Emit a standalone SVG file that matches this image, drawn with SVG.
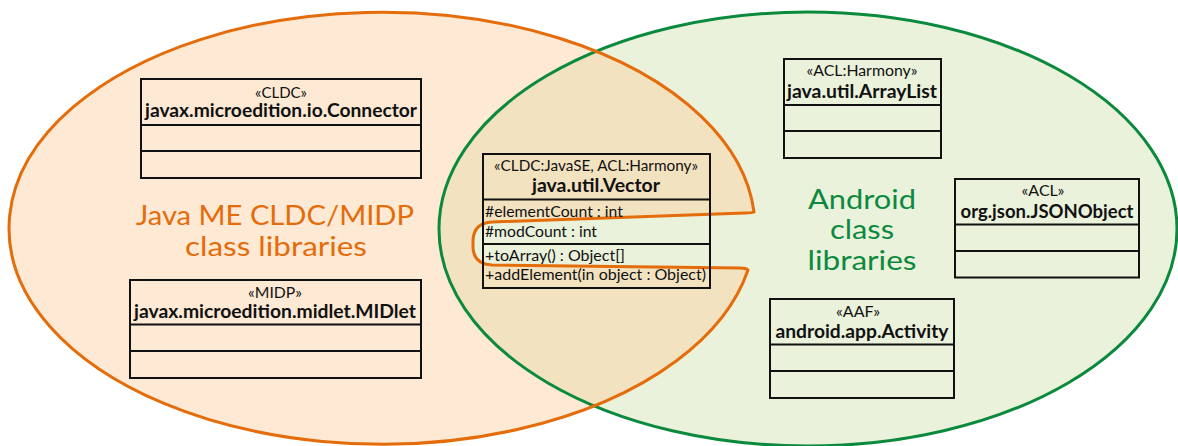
<svg xmlns="http://www.w3.org/2000/svg" width="1178" height="446" viewBox="0 0 1178 446">
<style>
.box{fill:none;stroke:#111;stroke-width:2}
.st{font-family:Lato,"Liberation Sans",sans-serif;font-size:16px;fill:#111;text-anchor:middle}
.nm{font-family:Lato,"Liberation Sans",sans-serif;font-size:18px;font-weight:bold;fill:#111;text-anchor:middle}
.at{font-family:Lato,"Liberation Sans",sans-serif;font-size:16px;fill:#111}
.big{font-family:Lato,"Liberation Sans",sans-serif;font-size:27px;text-anchor:middle}
</style>
<defs>
<path id="orangeShape" d="M 754 212 A 373 216 0 1 0 748 270 C 746 268 744 268 740 268 L 492 265 Q 474 264 473 248 L 473 240 Q 474 223 492 222 L 745 213 Q 752 213 754 212 Z"/>
<clipPath id="greenClip"><ellipse cx="808" cy="229" rx="369" ry="217"/></clipPath>
</defs>
<rect width="1178" height="446" fill="#ffffff"/>
<g id="sets">
<use href="#orangeShape" fill="#FDE9D4"/>
<ellipse cx="808" cy="229" rx="369" ry="217" fill="#EBF2DC"/>
<use href="#orangeShape" fill="#F3E2C0" clip-path="url(#greenClip)"/>
<ellipse cx="808" cy="229" rx="369" ry="217" fill="none" stroke="#0B8A3E" stroke-width="3"/>
<use href="#orangeShape" fill="none" stroke="#E46C0A" stroke-width="3"/>
<text class="big" x="275" y="225" fill="#E46C0A" textLength="278" lengthAdjust="spacingAndGlyphs">Java ME CLDC/MIDP</text>
<text class="big" x="276" y="256" fill="#E46C0A" textLength="182" lengthAdjust="spacingAndGlyphs">class libraries</text>
<text class="big" x="862" y="209" fill="#0B8A3E" textLength="108" lengthAdjust="spacingAndGlyphs">Android</text>
<text class="big" x="862" y="239" fill="#0B8A3E" textLength="64" lengthAdjust="spacingAndGlyphs">class</text>
<text class="big" x="862" y="270" fill="#0B8A3E" textLength="109" lengthAdjust="spacingAndGlyphs">libraries</text>
</g>
<g id="connector">
<rect class="box" x="141" y="79" width="280" height="99"/>
<line class="box" x1="141" y1="125" x2="421" y2="125"/>
<line class="box" x1="141" y1="151" x2="421" y2="151"/>
<text class="st" x="281" y="98" textLength="52" lengthAdjust="spacingAndGlyphs">«CLDC»</text>
<text class="nm" x="281" y="117" textLength="272" lengthAdjust="spacingAndGlyphs">javax.microedition.io.Connector</text>
</g>
<g id="midlet">
<rect class="box" x="130" y="280" width="291" height="98"/>
<line class="box" x1="130" y1="324.5" x2="421" y2="324.5"/>
<line class="box" x1="130" y1="351" x2="421" y2="351"/>
<text class="st" x="275" y="298" textLength="54" lengthAdjust="spacingAndGlyphs">«MIDP»</text>
<text class="nm" x="275" y="318" textLength="282" lengthAdjust="spacingAndGlyphs">javax.microedition.midlet.MIDlet</text>
</g>
<g id="vector">
<rect class="box" x="483" y="154" width="227" height="134"/>
<line class="box" x1="483" y1="199.5" x2="710" y2="199.5"/>
<line class="box" x1="483" y1="244" x2="710" y2="244"/>
<text class="st" x="596" y="171" textLength="204" lengthAdjust="spacingAndGlyphs">«CLDC:JavaSE, ACL:Harmony»</text>
<text class="nm" x="596" y="192" textLength="128" lengthAdjust="spacingAndGlyphs">java.util.Vector</text>
<text class="at" x="485" y="217" textLength="138" lengthAdjust="spacingAndGlyphs">#elementCount : int</text>
<text class="at" x="485" y="237" textLength="112" lengthAdjust="spacingAndGlyphs">#modCount : int</text>
<text class="at" x="485" y="261" textLength="140" lengthAdjust="spacingAndGlyphs">+toArray() : Object[]</text>
<text class="at" x="485" y="280" textLength="221" lengthAdjust="spacingAndGlyphs">+addElement(in object : Object)</text>
</g>
<g id="arraylist">
<rect class="box" x="784" y="59" width="157" height="99"/>
<line class="box" x1="784" y1="105" x2="941" y2="105"/>
<line class="box" x1="784" y1="131" x2="941" y2="131"/>
<text class="st" x="862" y="76" textLength="111" lengthAdjust="spacingAndGlyphs">«ACL:Harmony»</text>
<text class="nm" x="862" y="98" textLength="150" lengthAdjust="spacingAndGlyphs">java.util.ArrayList</text>
</g>
<g id="jsonobject">
<rect class="box" x="955" y="179" width="184" height="98.5"/>
<line class="box" x1="955" y1="224.5" x2="1139" y2="224.5"/>
<line class="box" x1="955" y1="251" x2="1139" y2="251"/>
<text class="st" x="1043" y="196" textLength="43" lengthAdjust="spacingAndGlyphs">«ACL»</text>
<text class="nm" x="1047" y="218" textLength="173" lengthAdjust="spacingAndGlyphs">org.json.JSONObject</text>
</g>
<g id="activity">
<rect class="box" x="770" y="299" width="184" height="99"/>
<line class="box" x1="770" y1="344.5" x2="954" y2="344.5"/>
<line class="box" x1="770" y1="371" x2="954" y2="371"/>
<text class="st" x="858" y="317" textLength="44" lengthAdjust="spacingAndGlyphs">«AAF»</text>
<text class="nm" x="862" y="338" textLength="173" lengthAdjust="spacingAndGlyphs">android.app.Activity</text>
</g>
<g id="connectors"></g>
</svg>
